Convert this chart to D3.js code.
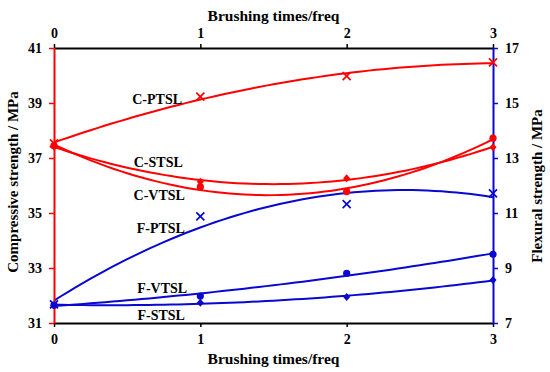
<!DOCTYPE html>
<html>
<head>
<meta charset="utf-8">
<script src="https://cdn.jsdelivr.net/npm/d3@7"></script>
<style>
  body { margin: 0; background: #fff; }
  text { font-family: "Liberation Serif", "Times New Roman", serif; font-weight: bold; }
</style>
</head>
<body>
<div id="chart"></div>
<script>
// brushing times on x, compressive (left) and flexural (right) strength
var times = [0, 1, 2, 3];
var xTicks = [0, 1, 2, 3];
var leftTicks = [31, 33, 35, 37, 39, 41];
var rightTicks = [7, 9, 11, 13, 15, 17];

var names = ["C-PTSL", "C-STSL", "C-VTSL", "F-PTSL", "F-VTSL", "F-STSL"];
var cPTSL = [37.53, 39.23, 39.98, 40.48];
var cSTSL = [37.42, 36.14, 36.26, 37.39];
var cVTSL = [37.45, 35.95, 35.78, 37.72];
var fPTSL = [7.68, 10.88, 11.32, 11.71];
var fVTSL = [7.65, 7.98, 8.81, 9.50];
var fSTSL = [7.65, 7.74, 7.95, 8.56];

var red = "#ff0000", blue = "#0808d0";

// series -> axis, colour, marker, label anchor (data units)
var series = [
    {name: names[0], v: cPTSL, side: "L", col: red,  mark: "x",       lab: [0.875, 38.96]},
    {name: names[1], v: cSTSL, side: "L", col: red,  mark: "diamond", lab: [0.88, 36.67]},
    {name: names[2], v: cVTSL, side: "L", col: red,  mark: "circle",  lab: [0.895, 35.47]},
    {name: names[3], v: fPTSL, side: "R", col: blue, mark: "x",       lab: [0.895, 10.27]},
    {name: names[4], v: fVTSL, side: "R", col: blue, mark: "circle",  lab: [0.91, 8.09]},
    {name: names[5], v: fSTSL, side: "R", col: blue, mark: "diamond", lab: [0.895, 7.11]}
];

// 2nd order least squares trendline (like the spreadsheet one)
function quadFit(xs, ys) {
    var n = xs.length, S = [0,0,0,0,0], T = [0,0,0];
    for (var i=0;i<n;i++) {
        var p = 1;
        for (var k=0;k<5;k++) { S[k] += p; if (k<3) T[k] += p*ys[i]; p *= xs[i]; }
    }
    var A = [[S[0],S[1],S[2],T[0]],[S[1],S[2],S[3],T[1]],[S[2],S[3],S[4],T[2]]];
    for (var c=0;c<3;c++) {
        for (var r=c+1;r<3;r++) {
            var f = A[r][c]/A[c][c];
            for (var j=c;j<4;j++) A[r][j] -= f*A[c][j];
        }
    }
    var b = [0,0,0];
    for (var r=2;r>=0;r--) {
        var s = A[r][3];
        for (var j=r+1;j<3;j++) s -= A[r][j]*b[j];
        b[r] = s/A[r][r];
    }
    return function(x) { return b[0] + b[1]*x + b[2]*x*x; };
}

var W = 550, H = 372;
var margin = {top: 48, right: 57, bottom: 49, left: 54};
var width = W - margin.left - margin.right;
var height = H - margin.top - margin.bottom;

var svg = d3.select("#chart").append("svg").attr("width", W).attr("height", H);
var g = svg.append("g").attr("transform", "translate(" + margin.left + "," + margin.top + ")");

var x = d3.scaleLinear().domain([0, 3]).range([0, width]);
var yL = d3.scaleLinear().domain([31, 41]).range([height, 0]);
var yR = d3.scaleLinear().domain([7, 17]).range([height, 0]);

function styleAxis(sel, col) {
    sel.select(".domain").attr("stroke", col).attr("stroke-width", 2);
    sel.selectAll(".tick line").attr("stroke", col).attr("stroke-width", 1.5);
    sel.selectAll(".tick text").attr("fill", "#000").style("font-size", "14px")
        .style("font-family", "Liberation Serif").style("font-weight", "bold");
}

// top and bottom axes (black)
g.append("g").call(d3.axisTop(x).tickValues(xTicks).tickFormat(d3.format("d"))
    .tickSize(4).tickSizeOuter(0).tickPadding(6)).call(styleAxis, "#000");
g.append("g").attr("transform", "translate(0," + height + ")")
    .call(d3.axisBottom(x).tickValues(xTicks).tickFormat(d3.format("d"))
    .tickSize(4).tickSizeOuter(0).tickPadding(7)).call(styleAxis, "#000");

// curves
var line = d3.line().x(function(d) { return x(d[0]); }).y(function(d) { return d[1]; });
var samples = d3.range(0, 3.0001, 0.05);
series.forEach(function(s) {
    var f = quadFit(times, s.v);
    var yS = s.side == "L" ? yL : yR;
    g.append("path")
        .datum(samples.map(function(t) { return [t, yS(f(t))]; }))
        .attr("fill", "none").attr("stroke", s.col).attr("stroke-width", 2)
        .attr("d", line);
});

// left / right axes
g.append("g").call(d3.axisLeft(yL).tickValues(leftTicks)
    .tickSize(5).tickSizeOuter(0).tickPadding(7)).call(styleAxis, red);
g.append("g").attr("transform", "translate(" + width + ",0)")
    .call(d3.axisRight(yR).tickValues(rightTicks)
    .tickSize(5).tickSizeOuter(0).tickPadding(7)).call(styleAxis, blue);

// markers, crosses last so they stay on top
var order = series.filter(function(s) { return s.mark != "x"; })
    .concat(series.filter(function(s) { return s.mark == "x"; }));
order.forEach(function(s) {
    var yS = s.side == "L" ? yL : yR;
    s.v.forEach(function(v, i) {
        var cx = x(times[i]), cy = yS(v);
        if (s.mark == "circle") {
            g.append("circle").attr("cx", cx).attr("cy", cy).attr("r", 3.6).attr("fill", s.col);
        } else if (s.mark == "diamond") {
            g.append("path").attr("transform", "translate(" + cx + "," + cy + ")")
                .attr("d", "M0,-4L3.5,0L0,4L-3.5,0Z").attr("fill", s.col);
        } else {
            g.append("path").attr("transform", "translate(" + cx + "," + cy + ")")
                .attr("d", "M-4,-4L4,4M-4,4L4,-4")
                .attr("stroke", s.col).attr("stroke-width", 1.7).attr("fill", "none");
        }
    });
});
series.forEach(function(s) {
    var yS = s.side == "L" ? yL : yR;
    g.append("text")
        .attr("x", x(s.lab[0])).attr("y", yS(s.lab[1]))
        .attr("text-anchor", "end").style("font-size", "14px").attr("fill", "#000")
        .text(s.name);
});

// titles
svg.append("text").attr("x", margin.left + width/2).attr("y", 21)
    .attr("text-anchor", "middle").style("font-size", "15.5px").text("Brushing times/freq");
svg.append("text").attr("x", margin.left + width/2).attr("y", 364)
    .attr("text-anchor", "middle").style("font-size", "15.5px").text("Brushing times/freq");
svg.append("text").attr("transform", "translate(18," + 182 + ") rotate(-90)")
    .attr("text-anchor", "middle").style("font-size", "15px").text("Compressive strength / MPa");
svg.append("text").attr("transform", "translate(542," + 186 + ") rotate(-90)")
    .attr("text-anchor", "middle").style("font-size", "15px").text("Flexural strength / MPa");
</script>
</body>
</html>
